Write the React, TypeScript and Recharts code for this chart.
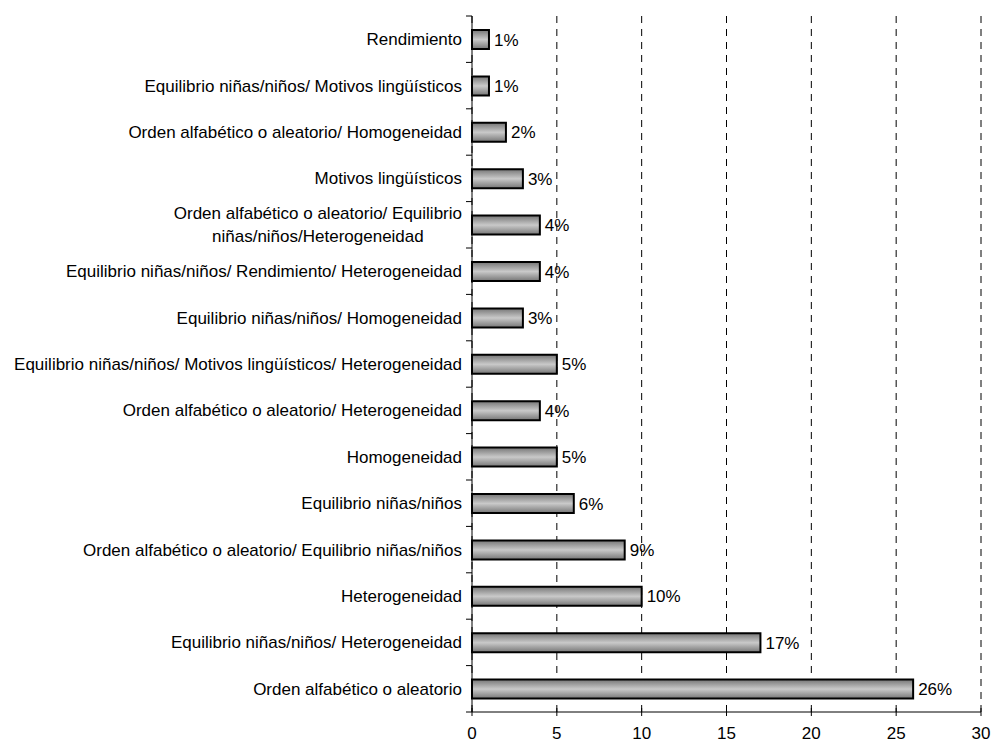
import { useLayoutEffect, useRef, useState } from "react"
import { Bar, BarChart, CartesianGrid, LabelList, XAxis, YAxis } from "recharts"

const categories = [
    "Rendimiento",
    "Equilibrio niñas/niños/ Motivos lingüísticos",
    "Orden alfabético o aleatorio/ Homogeneidad",
    "Motivos lingüísticos",
    "Orden alfabético o aleatorio/ Equilibrio\nniñas/niños/Heterogeneidad",
    "Equilibrio niñas/niños/ Rendimiento/ Heterogeneidad",
    "Equilibrio niñas/niños/ Homogeneidad",
    "Equilibrio niñas/niños/ Motivos lingüísticos/ Heterogeneidad",
    "Orden alfabético o aleatorio/ Heterogeneidad",
    "Homogeneidad",
    "Equilibrio niñas/niños",
    "Orden alfabético o aleatorio/ Equilibrio niñas/niños",
    "Heterogeneidad",
    "Equilibrio niñas/niños/ Heterogeneidad",
    "Orden alfabético o aleatorio",
]

const values = [1, 1, 2, 3, 4, 4, 3, 5, 4, 5, 6, 9, 10, 17, 26]

const xTicks = [0, 5, 10, 15, 20, 25, 30]

const FONT = "'Liberation Sans', Arial, sans-serif"
const FONT_SIZE = 17

function CategoryTick({ x, y, payload, index, visibleTicksCount }: any) {
    const lines = String(payload.value).split("\n")
    const ref = useRef<SVGGElement>(null)
    const [w, setW] = useState(0)
    const lineHeight = 23
    const half = payload.offset ?? 0
    const axisX = x + 10

    useLayoutEffect(() => {
        if (!ref.current || lines.length < 2) return
        let max = 0
        ref.current.querySelectorAll("text").forEach((t) => {
            max = Math.max(max, (t as SVGTextElement).getComputedTextLength())
        })
        setW(max)
    }, [payload.value])

    const startY = y - ((lines.length - 1) * lineHeight) / 2
    return (
        <g ref={ref}>
            {/* tick marks sit on the band edges, not on the band centres */}
            <line x1={axisX - 6} x2={axisX} y1={y - half} y2={y - half} stroke="#000" />
            {index === visibleTicksCount - 1 && (
                <line x1={axisX - 6} x2={axisX} y1={y + half} y2={y + half} stroke="#000" />
            )}
            {lines.map((line, i) => (
                <text
                    key={i}
                    x={lines.length > 1 ? x - w / 2 : x}
                    y={startY + i * lineHeight}
                    dy="0.35em"
                    textAnchor={lines.length > 1 ? "middle" : "end"}
                    fontSize={FONT_SIZE}
                    fontFamily={FONT}
                    fill="#000"
                >
                    {line}
                </text>
            ))}
        </g>
    )
}

function ValueTick({ x, y, payload }: any) {
    // y is where the label sits (axis + tickSize + tickMargin)
    const axisY = y - 15
    return (
        <g>
            <line x1={x} x2={x} y1={axisY - 4} y2={axisY + 4} stroke="#000" strokeWidth={1} />
            <text x={x} y={y} dy="0.71em" textAnchor="middle" fontSize={FONT_SIZE} fontFamily={FONT} fill="#000">
                {payload.value}
            </text>
        </g>
    )
}

export default function App() {
    const chartData = categories.map((name, i) => ({ name, value: values[i] }))

    return (
        <div style={{ position: "absolute", left: 0, top: 0, background: "#fff" }}>
            <BarChart
                width={991}
                height={744}
                data={chartData}
                layout="vertical"
                margin={{ top: 16, right: 10, bottom: 6, left: 0 }}
                barCategoryGap={0}
            >
                <defs>
                    <linearGradient id="barFill" x1="0" y1="0" x2="0" y2="1">
                        <stop offset="0%" stopColor="#767676" />
                        <stop offset="50%" stopColor="#c9c9c9" />
                        <stop offset="100%" stopColor="#767676" />
                    </linearGradient>
                </defs>
                <CartesianGrid horizontal={false} stroke="#000" strokeDasharray="7 6" />
                <XAxis
                    type="number"
                    domain={[0, 30]}
                    ticks={xTicks}
                    interval={0}
                    height={26}
                    tickLine={false}
                    tickSize={4}
                    tickMargin={11}
                    axisLine={{ stroke: "#000" }}
                    tick={<ValueTick />}
                />
                <YAxis
                    type="category"
                    dataKey="name"
                    width={472}
                    interval={0}
                    tickLine={false}
                    tickSize={0}
                    tickMargin={10}
                    axisLine={{ stroke: "#000" }}
                    tick={<CategoryTick />}
                />
                <Bar
                    dataKey="value"
                    barSize={19}
                    fill="url(#barFill)"
                    stroke="#000"
                    strokeWidth={2}
                    isAnimationActive={false}
                >
                    <LabelList
                        dataKey="value"
                        position="right"
                        offset={5}
                        formatter={(v: any) => `${v}%`}
                        style={{ fontSize: FONT_SIZE, fontFamily: FONT, fill: "#000" }}
                    />
                </Bar>
            </BarChart>
        </div>
    )
}
